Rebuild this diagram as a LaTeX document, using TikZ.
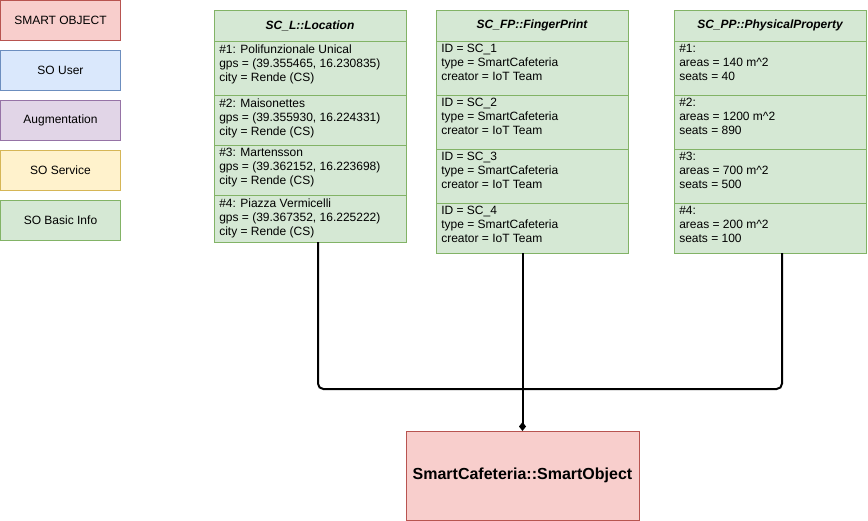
\documentclass[tikz,border=0pt]{standalone}
\usepackage{fontspec}
\setmainfont{Liberation Sans}
\usetikzlibrary{positioning,arrows.meta}

% Colori in stile draw.io
\definecolor{sofill}{HTML}{F8CECC}   \definecolor{soline}{HTML}{B85450}
\definecolor{userfill}{HTML}{DAE8FC} \definecolor{userline}{HTML}{6C8EBF}
\definecolor{augfill}{HTML}{E1D5E7}  \definecolor{augline}{HTML}{9673A6}
\definecolor{srvfill}{HTML}{FFF2CC}  \definecolor{srvline}{HTML}{D6B656}
\definecolor{infofill}{HTML}{D5E8D4} \definecolor{infoline}{HTML}{82B366}

\begin{document}
\begin{tikzpicture}[x=0.75pt, y=-0.75pt,
    every node/.style={font=\fontsize{9}{10.5}\selectfont},
    legend/.style={draw, line width=0.75pt, minimum width=90pt, minimum height=30pt, outer sep=0pt},
    head/.style={draw=infoline, fill=infofill, line width=0.75pt, minimum width=144pt, minimum height=23.25pt,
        outer sep=0pt, anchor=north west, font=\fontsize{9}{10.5}\selectfont\bfseries\itshape},
    row/.style={draw=infoline, fill=infofill, line width=0.75pt, minimum width=144pt, outer sep=0pt},
    rowtext/.style={anchor=north west, align=left, inner xsep=3.75pt, inner ysep=2.5pt},
    conn/.style={line width=1.5pt, rounded corners=4pt}]

    % Cornice della figura
    \useasboundingbox (0,0) rectangle (868,521);

    % Legenda a sinistra
    \node[legend, draw=soline, fill=sofill, anchor=north west] (legso) at (0.5,0.5) {SMART OBJECT};
    \node[legend, draw=userline, fill=userfill, below=7.5pt of legso] (leguser) {SO User};
    \node[legend, draw=augline, fill=augfill, below=7.5pt of leguser] (legaug) {Augmentation};
    \node[legend, draw=srvline, fill=srvfill, below=7.5pt of legaug] (legsrv) {SO Service};
    \node[legend, draw=infoline, fill=infofill, below=7.5pt of legsrv] (leginfo) {SO Basic Info};

    % Colonna Location
    \node[head] (loc0) at (214,10) {SC\_L::Location};
    \node[row, minimum height=40.5pt, below=0pt of loc0,
        label={[rowtext]north west:{\#1: Polifunzionale Unical\\gps = (39.355465, 16.230835)\\city = Rende (CS)}}] (loc1) {};
    \node[row, minimum height=37.5pt, below=0pt of loc1,
        label={[rowtext]north west:{\#2: Maisonettes\\gps = (39.355930, 16.224331)\\city = Rende (CS)}}] (loc2) {};
    \node[row, minimum height=37.5pt, below=0pt of loc2,
        label={[rowtext]north west:{\#3: Martensson\\gps = (39.362152, 16.223698)\\city = Rende (CS)}}] (loc3) {};
    \node[row, minimum height=35.25pt, below=0pt of loc3,
        label={[rowtext]north west:{\#4: Piazza Vermicelli\\gps = (39.367352, 16.225222)\\city = Rende (CS)}}] (loc4) {};

    % Colonna FingerPrint
    \node[head] (fp0) at (436,10) {SC\_FP::FingerPrint};
    \node[row, minimum height=40.5pt, below=0pt of fp0,
        label={[rowtext]north west:{ID = SC\_1\\type = SmartCafeteria\\creator = IoT Team}}] (fp1) {};
    \node[row, minimum height=40.5pt, below=0pt of fp1,
        label={[rowtext]north west:{ID = SC\_2\\type = SmartCafeteria\\creator = IoT Team}}] (fp2) {};
    \node[row, minimum height=40.5pt, below=0pt of fp2,
        label={[rowtext]north west:{ID = SC\_3\\type = SmartCafeteria\\creator = IoT Team}}] (fp3) {};
    \node[row, minimum height=37.5pt, below=0pt of fp3,
        label={[rowtext]north west:{ID = SC\_4\\type = SmartCafeteria\\creator = IoT Team}}] (fp4) {};

    % Colonna PhysicalProperty
    \node[head] (pp0) at (674,10) {SC\_PP::PhysicalProperty};
    \node[row, minimum height=40.5pt, below=0pt of pp0,
        label={[rowtext]north west:{\#1:\\areas = 140 m\textasciicircum 2\\seats = 40}}] (pp1) {};
    \node[row, minimum height=40.5pt, below=0pt of pp1,
        label={[rowtext]north west:{\#2:\\areas = 1200 m\textasciicircum 2\\seats = 890}}] (pp2) {};
    \node[row, minimum height=40.5pt, below=0pt of pp2,
        label={[rowtext]north west:{\#3:\\areas = 700 m\textasciicircum 2\\seats = 500}}] (pp3) {};
    \node[row, minimum height=37.5pt, below=0pt of pp3,
        label={[rowtext]north west:{\#4:\\areas = 200 m\textasciicircum 2\\seats = 100}}] (pp4) {};

    % Lo smart object in basso
    \node[draw=soline, fill=sofill, line width=0.75pt, minimum width=174.75pt, minimum height=66.75pt,
        outer sep=0pt, anchor=north west, font=\fontsize{12}{14}\selectfont\bfseries] (so) at (406,431)
        {SmartCafeteria::SmartObject};

    % Collegamenti (composizione)
    \coordinate (join) at (so.north |- 0,389);
    \draw[conn] ([xshift=6pt]loc4.south) |- (join);
    \draw[conn] ([xshift=9pt]pp4.south) |- (join);
    \draw[conn, -{Diamond[length=6.75pt, width=5.25pt]}] (fp4.south -| so.north) -- (so.north);
\end{tikzpicture}
\end{document}
